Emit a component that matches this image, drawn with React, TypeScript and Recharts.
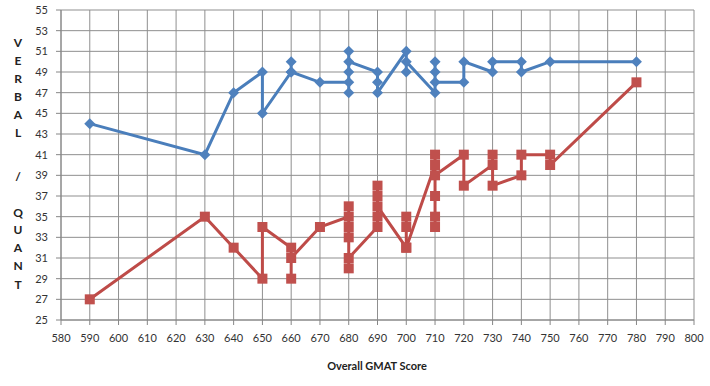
import React from 'react';
import { ScatterChart, Scatter, XAxis, YAxis, CartesianGrid, Customized } from 'recharts';

// Overall GMAT score vs. section score, rows kept in sheet order
const verbalScores = [590, 630, 640, 650, 650, 660, 660, 660, 670, 680, 680, 680, 680, 680, 690, 690, 690, 700, 700, 700, 710, 710, 710, 710, 720, 720, 730, 730, 740, 740, 750, 780];
const verbalValues = [44, 41, 47, 49, 45, 49, 50, 49, 48, 48, 47, 51, 49, 50, 49, 48, 47, 51, 49, 50, 47, 50, 49, 48, 48, 50, 49, 50, 50, 49, 50, 50];

const quantScores = [590, 630, 640, 650, 650, 660, 660, 660, 670, 680, 680, 680, 680, 680, 680, 690, 690, 690, 690, 690, 700, 700, 700, 700, 710, 710, 710, 710, 710, 710, 720, 720, 730, 730, 730, 740, 740, 750, 750, 780];
const quantValues = [27, 35, 32, 29, 34, 32, 29, 31, 34, 35, 36, 33, 34, 30, 31, 34, 38, 37, 35, 36, 32, 35, 34, 32, 40, 41, 34, 35, 37, 39, 41, 38, 40, 41, 38, 39, 41, 41, 40, 48];

const xTicks = [580, 590, 600, 610, 620, 630, 640, 650, 660, 670, 680, 690, 700, 710, 720, 730, 740, 750, 760, 770, 780, 790, 800];
const yTicks = [25, 27, 29, 31, 33, 35, 37, 39, 41, 43, 45, 47, 49, 51, 53, 55];

const yTitleLetters = ['V', 'E', 'R', 'B', 'A', 'L', '/', 'Q', 'U', 'A', 'N', 'T'];
const yTitleRows = [43, 61, 79, 97, 115, 133, 177, 213, 230, 248, 266, 285];

const FONT = 'Lato, "Open Sans", sans-serif';
const BLUE = '#4A7EBB';
const RED = '#BE4B48';

const verbalData = verbalScores.map((x, i) => ({ x, y: verbalValues[i] }));
const quantData = quantScores.map((x, i) => ({ x, y: quantValues[i] }));

const Diamond = (props: any) => {
  const { cx, cy } = props;
  const r = 5.5;
  return <path d={`M${cx},${cy - r}L${cx + r},${cy}L${cx},${cy + r}L${cx - r},${cy}Z`} fill="#4F81BD" />;
};

const Square = (props: any) => {
  const { cx, cy } = props;
  return <rect x={cx - 5} y={cy - 5} width={10} height={10} fill="#C0504D" />;
};

const Titles = () => (
  <g fontFamily={FONT} fontWeight="bold" fill="#222">
    {yTitleLetters.map((ch, i) => (
      <text key={i} x={18} y={yTitleRows[i] + 4} fontSize={12} textAnchor="middle">
        {ch}
      </text>
    ))}
    <text x={377} y={370} fontSize={11} textAnchor="middle">
      Overall GMAT Score
    </text>
  </g>
);

export default function App() {
  return (
    <div style={{ position: 'absolute', left: 0, top: 0, width: 710, height: 386, background: '#fff' }}>
      <ScatterChart width={710} height={386} margin={{ top: 10, right: 16, bottom: 16, left: 11 }}>
        <CartesianGrid stroke="#8f8f8f" strokeWidth={1} />
        <XAxis
          type="number"
          dataKey="x"
          domain={[580, 800]}
          ticks={xTicks}
          interval={0}
          height={50}
          tickSize={5}
          tickMargin={9}
          axisLine={{ stroke: '#868686' }}
          tickLine={{ stroke: '#868686' }}
          tick={{ fontSize: 11, fill: '#333', fontFamily: FONT }}
        />
        <YAxis
          type="number"
          dataKey="y"
          domain={[25, 55]}
          ticks={yTicks}
          interval={0}
          width={50}
          tickSize={5}
          tickMargin={8}
          axisLine={{ stroke: '#868686' }}
          tickLine={{ stroke: '#868686' }}
          tick={{ fontSize: 11, fill: '#333', fontFamily: FONT }}
        />
        <Scatter
          name="Verbal"
          data={verbalData}
          line={{ stroke: BLUE, strokeWidth: 3 }}
          shape={Diamond}
          isAnimationActive={false}
        />
        <Scatter
          name="Quant"
          data={quantData}
          line={{ stroke: RED, strokeWidth: 3 }}
          shape={Square}
          isAnimationActive={false}
        />
        <Customized component={<Titles />} />
      </ScatterChart>
    </div>
  );
}
